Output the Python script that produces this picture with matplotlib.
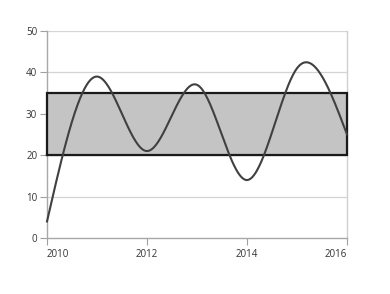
import numpy as np
import matplotlib
matplotlib.use('Agg')
import matplotlib.pyplot as plt

years = [2010, 2011, 2012, 2013, 2014, 2015, 2016]
values = [4, 39, 21, 37, 14, 41, 25]
band_low = 20
band_high = 35
x_ticks = [2010, 2012, 2014, 2016]
y_ticks = [0, 10, 20, 30, 40, 50]


# Natural cubic spline through the points, used only to draw a smooth line.
def natural_spline(xs, ys, n=400):
    xs = np.asarray(xs, float)
    ys = np.asarray(ys, float)
    k = len(xs)
    h = np.diff(xs)
    A = np.zeros((k, k))
    b = np.zeros(k)
    A[0, 0] = 1
    A[-1, -1] = 1
    for i in range(1, k - 1):
        A[i, i - 1] = h[i - 1]
        A[i, i] = 2 * (h[i - 1] + h[i])
        A[i, i + 1] = h[i]
        b[i] = 6 * ((ys[i + 1] - ys[i]) / h[i] - (ys[i] - ys[i - 1]) / h[i - 1])
    m = np.linalg.solve(A, b)
    xx = np.linspace(xs[0], xs[-1], n)
    yy = np.empty_like(xx)
    for j, x in enumerate(xx):
        i = min(np.searchsorted(xs, x, side='right') - 1, k - 2)
        t0 = xs[i + 1] - x
        t1 = x - xs[i]
        yy[j] = (m[i] * t0 ** 3 + m[i + 1] * t1 ** 3) / (6 * h[i]) \
            + (ys[i] / h[i] - m[i] * h[i] / 6) * t0 \
            + (ys[i + 1] / h[i] - m[i + 1] * h[i] / 6) * t1
    return xx, yy


plt.rcParams['font.family'] = ['Open Sans', 'DejaVu Sans']

fig = plt.figure(figsize=(3.9, 2.94), dpi=100)
ax = fig.add_axes([47 / 390, 56 / 294, 300 / 390, 207 / 294])

ax.set_xlim(years[0], years[-1])
ax.set_ylim(0, 50)

for y in y_ticks[1:]:
    ax.axhline(y, color='#d4d4d4', lw=0.9, zorder=1)

# the band, with its dark border
ax.fill_between([years[0], years[-1]], band_low, band_high,
                color='#c4c4c4', zorder=2)
bx = [years[0], years[-1], years[-1], years[0], years[0]]
by = [band_low, band_low, band_high, band_high, band_low]
ax.plot(bx, by, color='#1a1a1a', lw=1.6, zorder=3, clip_on=False,
        solid_joinstyle='miter')

xx, yy = natural_spline(years, values)
ax.plot(xx, yy, color='#404040', lw=1.5, zorder=4, clip_on=False)

ax.set_xticks(x_ticks)
ax.set_xticklabels([str(t) for t in x_ticks])
ax.set_yticks(y_ticks)
ax.tick_params(axis='both', colors='#a0a0a0', labelcolor='#333333',
               labelsize=7, length=5, width=0.8, pad=2)
ax.tick_params(axis='x', pad=3)

# first label starts at its tick, last one ends at it
labels = ax.get_xticklabels()
labels[0].set_ha('left')
labels[-1].set_ha('right')

ax.spines['top'].set_visible(False)
ax.spines['left'].set_color('#a8a8a8')
ax.spines['bottom'].set_color('#a8a8a8')
ax.spines['right'].set_color('#d0d0d0')
for s in ['left', 'bottom', 'right']:
    ax.spines[s].set_linewidth(1.0)

fig.savefig('out.png', dpi=100)
